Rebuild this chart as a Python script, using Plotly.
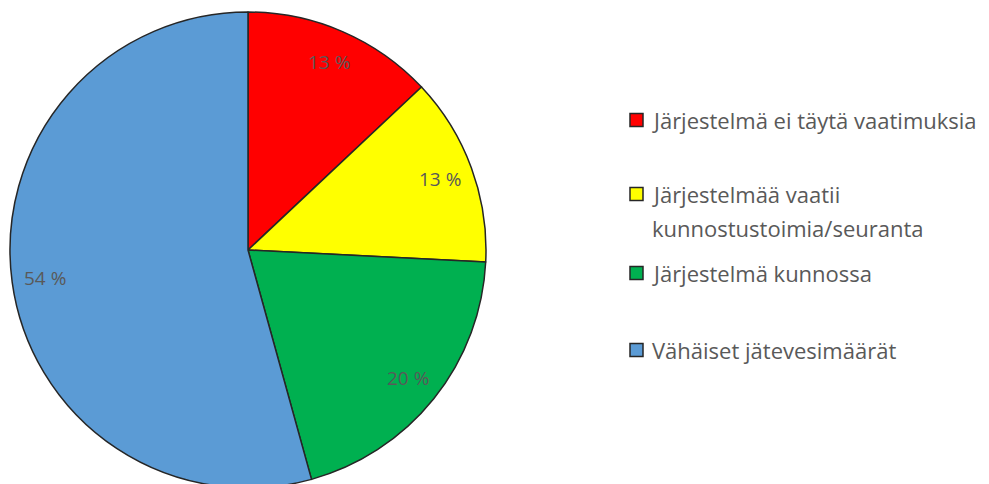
import math

import plotly.graph_objects as go

# slice data (percent)
labels = [
    "Järjestelmä ei täytä vaatimuksia",
    "Järjestelmää vaatii\nkunnostustoimia/seuranta",
    "Järjestelmä kunnossa",
    "Vähäiset jätevesimäärät",
]
values = [13.0, 12.8, 19.9, 54.3]
colors = ["#ff0000", "#ffff00", "#00b050", "#5b9bd5"]

W, H = 981, 484
FONT = "Open Sans, Liberation Sans, sans-serif"
TEXT_COLOR = "#595959"
EDGE = "#262626"

# pie geometry in pixels (figure coords; page adds an 8px body margin)
cx, cy, radius = 240, 242, 238

fig = go.Figure(
    go.Pie(
        labels=[lab.replace("\n", " ") for lab in labels],
        values=values,
        marker={"colors": colors, "line": {"color": EDGE, "width": 1.5}},
        sort=False,
        direction="clockwise",
        rotation=0,
        textinfo="none",
        hoverinfo="label+percent",
        domain={
            "x": [(cx - radius) / W, (cx + radius) / W],
            "y": [1 - (cy + radius) / H, 1 - (cy - radius) / H],
        },
        showlegend=False,
    )
)

# percentage labels placed near the outer edge like the original
total = sum(values)
start = 0.0
for v in values:
    mid = (start + v / 2) / total * 2 * math.pi
    start += v
    r = radius * 0.86
    px = cx + r * math.sin(mid)
    py = cy - r * math.cos(mid)
    fig.add_annotation(
        x=px / W, y=1 - py / H, xref="paper", yref="paper",
        xanchor="center", yanchor="middle",
        text=f"{round(v / total * 100)} %", showarrow=False,
        font={"family": FONT, "size": 19, "color": TEXT_COLOR},
    )

# manual legend
legend_y = [112, 186, 265, 342]
line_gap = 34
sq = 13
sq_x = 622
text_x = 642
for lab, col, ly in zip(labels, colors, legend_y):
    fig.add_shape(
        type="rect", xref="paper", yref="paper",
        x0=sq_x / W, x1=(sq_x + sq) / W,
        y0=1 - (ly + sq / 2) / H, y1=1 - (ly - sq / 2) / H,
        fillcolor=col, line={"color": EDGE, "width": 1.5},
    )
    for i, part in enumerate(lab.split("\n")):
        fig.add_annotation(
            x=text_x / W, y=1 - (ly + i * line_gap) / H, xref="paper", yref="paper",
            text=part, showarrow=False, xanchor="left", yanchor="middle",
            font={"family": FONT, "size": 22, "color": TEXT_COLOR},
        )

fig.update_layout(
    width=W, height=H,
    margin={"l": 0, "r": 0, "t": 0, "b": 0},
    paper_bgcolor="white",
    plot_bgcolor="white",
)

fig.write_html("out.html")
